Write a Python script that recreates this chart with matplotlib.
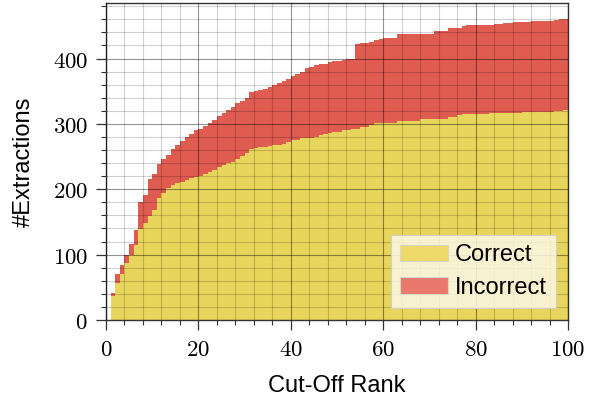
import numpy as np
import matplotlib
matplotlib.use('Agg')
import matplotlib.pyplot as plt
from matplotlib.patches import Patch
from matplotlib.ticker import MultipleLocator, FuncFormatter

ranks = list(range(1, 101))
correct = [37, 57, 70, 87, 100, 115, 139, 149, 159, 168,
           186, 195, 202, 206, 209, 211, 214, 217, 219, 220,
           223, 227, 230, 234, 237, 240, 242, 246, 251, 255,
           261, 263, 264, 265, 266, 267, 268, 270, 272, 275,
           276, 278, 279, 279, 280, 283, 284, 286, 287, 288,
           290, 291, 292, 292, 295, 296, 298, 301, 301, 302,
           302, 302, 305, 305, 305, 305, 305, 307, 307, 307,
           307, 307, 307, 311, 311, 313, 315, 315, 315, 315,
           315, 315, 316, 316, 316, 317, 317, 317, 317, 318,
           318, 318, 318, 318, 318, 318, 320, 320, 321, 321]
total = [41, 70, 84, 100, 117, 138, 180, 191, 215, 224,
         238, 246, 252, 262, 268, 274, 280, 284, 290, 292,
         297, 301, 306, 312, 317, 321, 326, 332, 335, 339,
         349, 350, 352, 353, 357, 359, 363, 365, 368, 374,
         377, 380, 386, 387, 390, 391, 392, 395, 396, 397,
         398, 399, 400, 422, 424, 424, 426, 428, 430, 431,
         431, 431, 437, 437, 437, 437, 437, 438, 438, 438,
         442, 442, 442, 446, 446, 447, 450, 451, 451, 452,
         452, 452, 452, 453, 453, 454, 454, 456, 456, 456,
         456, 457, 457, 457, 457, 457, 459, 461, 461, 461]
incorrect = [t - c for t, c in zip(total, correct)]

YELLOW = '#e5cf3f'
RED = '#db3f31'

plt.rcParams['mathtext.fontset'] = 'cm'
sans = ['Liberation Sans', 'DejaVu Sans']

fig = plt.figure(figsize=(5.95, 4.0), dpi=100)
ax = fig.add_axes([106 / 595, 80 / 400, 462 / 595, 317 / 400])

edges = np.append(np.array(ranks), ranks[-1] + 1)
corr = np.array(correct)
inc = np.array(incorrect)
ax.stairs(corr, edges, baseline=0, fill=True, color=YELLOW, alpha=0.85, lw=0)
ax.stairs(corr + inc, edges, baseline=corr, fill=True, color=RED, alpha=0.85, lw=0)

ax.set_xlim(0, 100)
ax.set_ylim(0, 485)
ax.xaxis.set_major_locator(MultipleLocator(20))
ax.xaxis.set_minor_locator(MultipleLocator(4))
ax.yaxis.set_major_locator(MultipleLocator(100))
ax.yaxis.set_minor_locator(MultipleLocator(20))
fmt = FuncFormatter(lambda v, p: r'$%d$' % int(round(v)))
ax.xaxis.set_major_formatter(fmt)
ax.yaxis.set_major_formatter(fmt)

ax.set_axisbelow(False)
ax.grid(which='major', color='black', alpha=0.42, lw=0.8)
ax.grid(which='minor', color='black', alpha=0.18, lw=0.8)

for s in ax.spines.values():
    s.set_color('#333333')
    s.set_linewidth(1.0)
ax.tick_params(which='major', direction='out', length=7, width=0.9, color='#333333',
               labelsize=16.5, pad=6)
ax.tick_params(which='minor', direction='out', length=3.8, width=0.8, color='#333333')

ax.set_xlabel('Cut-Off Rank', fontsize=17, family=sans, labelpad=10)
ax.set_ylabel('#Extractions', fontsize=17, family=sans, labelpad=13)

handles = [Patch(facecolor='#eed96a', edgecolor='#d8d8c8', lw=0.8, label='Correct'),
           Patch(facecolor='#e8796c', edgecolor='#d8d8c8', lw=0.8, label='Incorrect')]
leg = ax.legend(handles=handles, loc='lower right', fancybox=False, framealpha=0.85,
                facecolor='#fcf8e6', edgecolor='#cccccc', prop={'family': sans, 'size': 17},
                handlelength=2.0, handleheight=0.7, handletextpad=0.3, borderaxespad=0.5,
                labelspacing=0.45)
leg.get_frame().set_linewidth(0.8)
leg.set_zorder(5)

fig.savefig('out.png', dpi=100, facecolor='white')
